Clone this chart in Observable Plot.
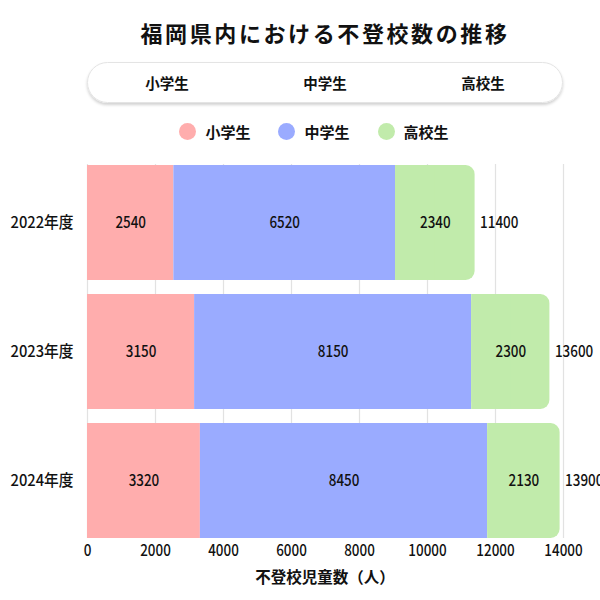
<!DOCTYPE html>
<html>
<head>
<meta charset="utf-8">
<script src="https://cdn.jsdelivr.net/npm/d3@7"></script>
<script src="https://cdn.jsdelivr.net/npm/@observablehq/plot@0.6"></script>
<style>
  body { margin: 0; background: #fff; font-family: "Noto Sans CJK JP", sans-serif; }
  #wrap { position: relative; width: 600px; height: 600px; overflow: hidden; }
  .title { position: absolute; left: 80px; width: 490px; top: 16px; text-align: center; font-size: 22px; font-weight: 700; color: #111; letter-spacing: 2.6px; }
  .toggle { position: absolute; left: 87px; top: 62px; width: 476px; height: 41px; border: 1px solid #e4e4e4; border-radius: 21px; box-shadow: 0 2px 3px rgba(0,0,0,0.18); display: flex; box-sizing: border-box; }
  .toggle div { flex: 1; text-align: center; line-height: 39px; font-size: 14.5px; font-weight: 700; color: #111; }
  .legend { position: absolute; left: 76px; width: 476px; top: 121px; display: flex; justify-content: center; gap: 28px; font-size: 15px; font-weight: 700; color: #111; }
  .legend span { display: flex; align-items: center; gap: 9px; }
  .legend i { display: inline-block; width: 17px; height: 17px; border-radius: 50%; }
  .xlabel { position: absolute; left: 87px; width: 476px; top: 565px; text-align: center; font-size: 15.5px; font-weight: 700; color: #111; }
  #chart { position: absolute; left: 0; top: 150px; }
</style>
</head>
<body>
<div id="wrap">
  <div class="title">福岡県内における不登校数の推移</div>
  <div class="toggle" id="toggle"></div>
  <div class="legend" id="legend"></div>
  <div id="chart"></div>
  <div class="xlabel" id="xlabel"></div>
</div>
<script>
const years = ["2022年度", "2023年度", "2024年度"];
const levels = ["小学生", "中学生", "高校生"];
const elementary = [2540, 3150, 3320];
const middle = [6520, 8150, 8450];
const high = [2340, 2300, 2130];
const totals = [11400, 13600, 13900];
const colors = ["#ffadad", "#9aabff", "#c1ebab"];
const xTicks = [0, 2000, 4000, 6000, 8000, 10000, 12000, 14000];
const xLabel = "不登校児童数（人）";

document.getElementById("toggle").innerHTML = levels.map(l => `<div>${l}</div>`).join("");
document.getElementById("legend").innerHTML = levels.map((l, i) => `<span><i style="background:${colors[i]}"></i>${l}</span>`).join("");
document.getElementById("xlabel").textContent = xLabel;

const series = [elementary, middle, high];
const rows = [];
years.forEach((y, j) => {
  let acc = 0;
  series.forEach((s, i) => {
    rows.push({year: y, level: levels[i], value: s[j], x1: acc, x2: acc + s[j], last: i === series.length - 1});
    acc += s[j];
  });
});
const lastRows = rows.filter(d => d.last);
const totalRows = years.map((y, j) => ({year: y, total: totals[j]}));

const chart = Plot.plot({
  width: 600,
  height: 440,
  marginTop: 14,
  marginBottom: 52,
  marginLeft: 87,
  marginRight: 37,
  style: {fontFamily: '"Noto Sans CJK JP", sans-serif', fontSize: "16px", fontWeight: 500, color: "#111", overflow: "visible"},
  x: {domain: [0, 14000], ticks: xTicks, tickFormat: d => String(d), tickSize: 0, tickPadding: 6, label: null},
  y: {domain: years, paddingInner: 0.11, paddingOuter: 0, tickSize: 0, tickPadding: 14, label: null},
  color: {domain: levels, range: colors},
  marks: [
    Plot.gridX(xTicks, {stroke: "#e2e2e2", strokeOpacity: 1, strokeWidth: 1.2}),
    Plot.barX(rows.filter(d => !d.last), {x1: "x1", x2: "x2", y: "year", fill: "level"}),
    Plot.barX(lastRows, {x1: "x1", x2: "x2", y: "year", fill: "level", rx: 9}),
    Plot.barX(lastRows, {x1: "x1", x2: d => (d.x1 + d.x2) / 2, y: "year", fill: "level"}),
    Plot.text(rows, {x: d => (d.x1 + d.x2) / 2, y: "year", text: d => String(d.value), fill: "#111", fontSize: 16}),
    Plot.text(totalRows, {x: "total", y: "year", text: d => String(d.total), textAnchor: "start", dx: 5, fill: "#111", fontSize: 16})
  ]
});
document.getElementById("chart").appendChild(chart);
// condensed look of the reference's chart texts
chart.querySelectorAll("text").forEach(el => {
  const L = el.getComputedTextLength();
  if (L > 0) {
    const k = /年度/.test(el.textContent) ? 0.92 : 0.84;
    el.setAttribute("textLength", (L * k).toFixed(1));
    el.setAttribute("lengthAdjust", "spacingAndGlyphs");
  }
});
</script>
</body>
</html>
